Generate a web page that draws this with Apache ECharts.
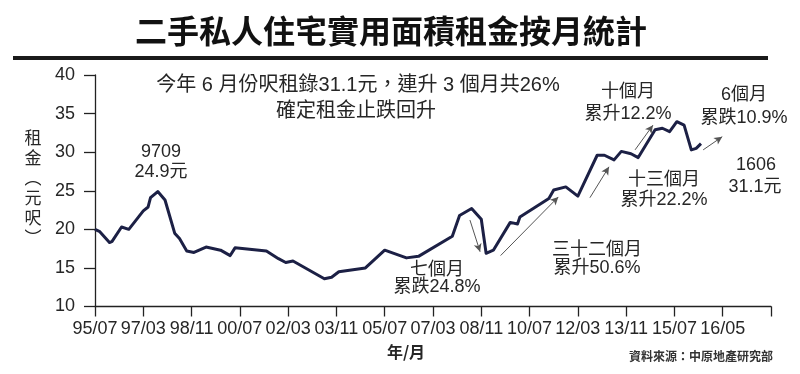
<!DOCTYPE html>
<html>
<head>
<meta charset="utf-8">
<script src="https://cdn.jsdelivr.net/npm/echarts@6/dist/echarts.min.js"></script>
<style>html,body{margin:0;padding:0;background:#fff}#c{width:800px;height:374px}</style>
</head>
<body>
<div id="c"></div>
<script>
const months = ["1995/07","1995/09","1996/01","1996/02","1996/06","1996/09","1997/03","1997/05","1997/06","1997/09",
  "1997/12","1998/04","1998/06","1998/09","1998/12","1999/05","1999/11","2000/03","2000/05","2001/06",
  "2001/11","2002/02","2002/05","2003/06","2003/09","2003/12","2004/11","2005/07","2006/04","2006/09",
  "2007/11","2008/02","2008/07","2008/11","2009/01","2009/04","2009/11","2010/02","2010/03","2011/03",
  "2011/05","2011/10","2012/03","2012/11","2013/02","2013/06","2013/09","2014/01","2014/04","2014/11",
  "2015/02","2015/05","2015/08","2015/11","2016/02","2016/04","2016/06"];
const rents = [20.0,19.7,18.3,18.4,20.3,20.0,22.4,22.9,24.1,24.9,
  23.8,19.5,18.8,17.2,17.0,17.7,17.3,16.6,17.6,17.2,
  16.2,15.7,15.9,13.6,13.8,14.5,15.0,17.3,16.3,16.5,
  19.1,21.8,22.7,21.3,16.9,17.3,20.9,20.7,21.6,24.0,
  25.1,25.5,24.3,29.6,29.6,29.0,30.1,29.8,29.3,32.9,
  33.1,32.65,33.95,33.5,30.3,30.5,31.1];
const tickLabels = ["95/07","97/03","98/11","00/07","02/03","03/11","05/07","07/03","08/11","10/07","12/03","13/11","15/07","16/05",""];
const yTicks = [10,15,20,25,30,35,40];

function monthIndex(s){const p=s.split("/");return (+p[0]-1995)*12+(+p[1]-7);}
const lineData = months.map((m,i)=>[monthIndex(m), rents[i]]);

const arrows = [
  [[155.3,21.2],[159.5,17.1]],
  [[168,16.6],[191.9,24.2]],
  [[205,24.1],[212.9,28.1]],
  [[223.7,30.3],[231.1,33.5]],
  [[251.9,30.3],[259.8,32.0]]
];

const TXT = '#262626';
const LAT = '"Liberation Sans","Noto Sans CJK TC",sans-serif';
function t(x,y,text,size,extra){
  return Object.assign({type:'text',x:x,y:y,silent:true,style:{text:text,fill:TXT,
    font: size+'px '+LAT,textAlign:'center',textVerticalAlign:'middle'}},extra||{});
}

const chart = echarts.init(document.getElementById('c'),null,{renderer:'canvas'});
chart.setOption({
  animation:false,
  backgroundColor:'#fff',
  grid:{left:95,right:29,top:75,bottom:67.5,containLabel:false},
  xAxis:{type:'value',min:0,max:280,interval:20,
    axisLine:{show:true,lineStyle:{color:'#222',width:1.3}},
    axisTick:{show:true,inside:false,length:10,lineStyle:{color:'#222',width:1.3}},
    axisLabel:{margin:14,fontSize:18,color:TXT,fontFamily:LAT,
      formatter:v=>tickLabels[Math.round(v/20)]||''},
    splitLine:{show:false}},
  yAxis:{type:'value',min:yTicks[0],max:yTicks[yTicks.length-1],interval:5,
    axisLine:{show:true,lineStyle:{color:'#222',width:1.3}},
    axisTick:{show:true,inside:false,length:11,lineStyle:{color:'#222',width:1.3}},
    axisLabel:{margin:20,fontSize:18,color:TXT,fontFamily:LAT},
    splitLine:{show:false}},
  series:[{type:'line',data:lineData,symbol:'none',smooth:false,
    lineStyle:{color:'#1c2045',width:3,join:'round'},
    markLine:{silent:true,symbol:['none','arrow'],symbolSize:[6,8],
      label:{show:false},
      lineStyle:{color:'#555',width:1,type:'solid'},
      data:arrows.map(a=>[{coord:a[0]},{coord:a[1]}])}
  }],
  graphic:[
    {type:'text',x:391,y:31,silent:true,style:{text:'二手私人住宅實用面積租金按月統計',fill:'#111',
      font:'bold 32px "Noto Sans CJK TC"',textAlign:'center',textVerticalAlign:'middle'}},
    {type:'rect',shape:{x:13,y:56,width:755,height:4},style:{fill:'#1a1a1a'},silent:true},
    {type:'text',x:33,y:128,silent:true,style:{text:'租\n金\n︵\n元\n呎\n︶',fill:TXT,
      font:'17px "Noto Sans CJK TC"',lineHeight:20,textAlign:'center',textVerticalAlign:'top'}},
    {type:'text',x:406,y:352,silent:true,style:{text:'年/月',fill:TXT,
      font:'bold 16px "Noto Sans CJK TC"',textAlign:'center',textVerticalAlign:'middle'}},
    {type:'text',x:773,y:356,silent:true,style:{text:'資料來源：中原地產研究部',fill:'#333',
      font:'bold 12px "Noto Sans CJK TC"',textAlign:'right',textVerticalAlign:'middle'}},
    t(358,85,'今年 6 月份呎租錄31.1元，連升 3 個月共26%',20),
    t(356,111,'確定租金止跌回升',20),
    t(161,152,'9709',18),
    t(161,172,'24.9元',18),
    t(437,270,'七個月',18),
    t(437,287,'累跌24.8%',18),
    t(597,250,'三十二個月',18),
    t(597,268,'累升50.6%',18),
    t(664,180,'十三個月',18),
    t(664,200,'累升22.2%',18),
    t(628,92,'十個月',18),
    t(628,114,'累升12.2%',18),
    t(744,95,'6個月',18),
    t(744,118,'累跌10.9%',18),
    t(756,165,'1606',18),
    t(755,187,'31.1元',18)
  ]
});
</script>
</body>
</html>
